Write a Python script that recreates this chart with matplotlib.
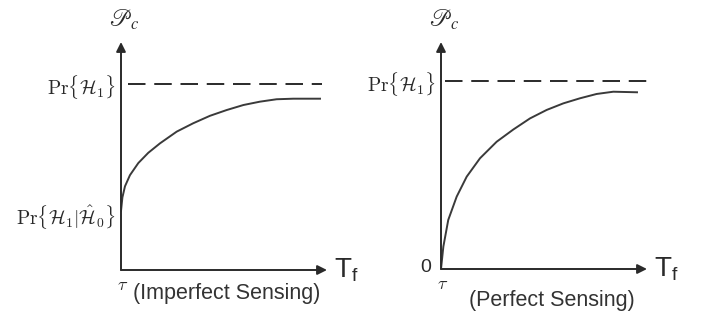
import matplotlib
matplotlib.use("Agg")
import matplotlib.pyplot as plt

plt.rcParams["font.family"] = ["Liberation Sans", "DejaVu Sans"]
plt.rcParams["mathtext.fontset"] = "cm"

# curve values (x: 0 = tau, 1 = right end; y: 1 = Pr{H1})
imperfect_t = [0, 0.007, 0.020, 0.045, 0.087, 0.137, 0.196, 0.280, 0.363, 0.447, 0.531, 0.615, 0.698, 0.782, 0.866, 1.0]
imperfect_p = [0.317, 0.390, 0.450, 0.510, 0.575, 0.630, 0.681, 0.744, 0.789, 0.829, 0.860, 0.887, 0.905, 0.918, 0.921, 0.921]
perfect_t = [0, 0.012, 0.037, 0.080, 0.131, 0.199, 0.284, 0.369, 0.454, 0.539, 0.624, 0.709, 0.794, 0.879, 1.0]
perfect_p = [0.0, 0.119, 0.261, 0.385, 0.491, 0.589, 0.677, 0.742, 0.801, 0.846, 0.881, 0.908, 0.931, 0.943, 0.940]
pr_h1 = 1.0

ylabel = r"$\mathscr{P}_c$"
xlabel = r"$\mathregular{T_f}$"
top_label = r"$\mathrm{Pr}\{\mathcal{H}_1\}$"
start_label = r"$\mathrm{Pr}\{\mathcal{H}_1|\hat{\mathcal{H}}_0\}$"
captions = ["(Imperfect Sensing)", "(Perfect Sensing)"]

W, H = 709, 326
fig = plt.figure(figsize=(W / 100, H / 100), dpi=100)

ink = "#2a2a2a"
curve_c = "#3a3a3a"


def panel(ox, oy, sx, sy, xend, ytop):
    # ox, oy: origin in pixels; sx, sy: pixels per unit
    xmax = (xend - ox) / sx
    ymax = (oy - ytop) / sy
    ax = fig.add_axes([ox / W, (H - oy) / H, (xend - ox) / W, (oy - ytop) / H])
    ax.set_xlim(0, xmax)
    ax.set_ylim(0, ymax)
    ax.axis("off")
    arrow = dict(arrowstyle="-|>", color=ink, lw=1.4, mutation_scale=14, shrinkA=0, shrinkB=0)
    ax.annotate("", xy=(xmax, 0), xytext=(0, 0), arrowprops=arrow, annotation_clip=False)
    ax.annotate("", xy=(0, ymax), xytext=(0, 0), arrowprops=arrow, annotation_clip=False)
    ax.annotate(ylabel, xy=(0, ymax), xytext=(2, 16), textcoords="offset points",
                ha="center", va="center", fontsize=17, color=ink, math_fontfamily="stix")
    ax.annotate(xlabel, xy=(xmax, 0), xytext=(5, -5.5), textcoords="offset points",
                ha="left", va="baseline", fontsize=20, color=ink)
    ax.annotate(r"$\tau$", xy=(0, 0), xytext=(1.5, -11), textcoords="offset points",
                ha="center", va="center", fontsize=13, color=ink)
    return ax, xmax


# left panel
ax1, xm1 = panel(121, 270, 199, 186, 327, 42)
ax1.plot([0.035, 1.01], [pr_h1, pr_h1], color=ink, lw=1.4, dashes=(9, 4.5))
ax1.plot(imperfect_t, imperfect_p, color=curve_c, lw=1.4, solid_joinstyle="round")
ax1.annotate(top_label, xy=(0, pr_h1), xytext=(-4, -2), textcoords="offset points",
             ha="right", va="center", fontsize=14, color=ink)
ax1.annotate(start_label, xy=(0, imperfect_p[0]), xytext=(-4, -5), textcoords="offset points",
             ha="right", va="center", fontsize=14, color=ink)
ax1.annotate(captions[0], xy=(0.533, 0), xytext=(0, -17), textcoords="offset points",
             ha="center", va="center", fontsize=15.5, color="#333333")

# right panel
ax2, xm2 = panel(441, 269, 196, 188, 647, 42)
ax2.plot([0.02, 1.05], [pr_h1, pr_h1], color=ink, lw=1.4, dashes=(9, 4.5))
ax2.plot(perfect_t, perfect_p, color=curve_c, lw=1.4, solid_joinstyle="round")
ax2.annotate(top_label, xy=(0, pr_h1), xytext=(-4, -2), textcoords="offset points",
             ha="right", va="center", fontsize=14, color=ink)
ax2.annotate("0", xy=(0, 0), xytext=(-11, 1), textcoords="offset points",
             ha="center", va="center", fontsize=14, color=ink)
ax2.annotate(captions[1], xy=(0.566, 0), xytext=(0, -23), textcoords="offset points",
             ha="center", va="center", fontsize=15.5, color="#333333")

fig.savefig("out.png", dpi=100)
